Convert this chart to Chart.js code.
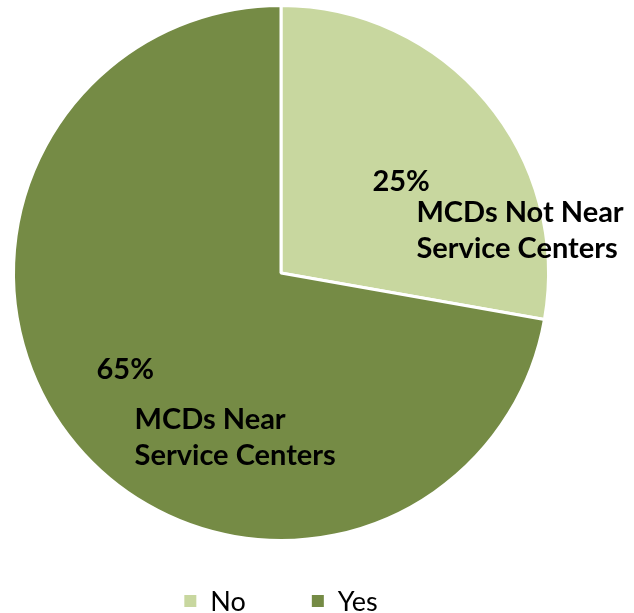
<!DOCTYPE html>
<html>
<head>
<meta charset="utf-8">
<script src="https://cdn.jsdelivr.net/npm/chart.js@4.4.1/dist/chart.umd.min.js"></script>
<style>
  body { margin: 0; background: #fff; }
  #wrap { width: 634px; height: 613px; position: relative; }
</style>
</head>
<body>
<div id="wrap"><canvas id="pieChart"></canvas></div>
<script>
// data
const categories = ['No', 'Yes'];
const values = [25, 65];
const pctLabels = ['25%', '65%'];
const sliceNames = [['MCDs Not Near', 'Service Centers'], ['MCDs Near', 'Service Centers']];
const colors = ['#c8d79f', '#758b45'];

const FONT = 'Lato, "Liberation Sans", sans-serif';

// text inside slices, placed relative to each arc's centroid
const sliceText = {
    id: 'sliceText',
    afterDatasetsDraw(chart) {
        const ctx = chart.ctx;
        const meta = chart.getDatasetMeta(0);
        // offsets from the centroid: [pct dx, pct dy, name dx, name dy]
        const offs = [[-11, -5, 33, 26], [-82, 11, -44, 61]];
        ctx.save();
        ctx.fillStyle = '#000';
        ctx.font = 'bold 29px ' + FONT;
        ctx.textAlign = 'left';
        ctx.textBaseline = 'middle';
        meta.data.forEach((arc, i) => {
            const p = arc.tooltipPosition();
            const o = offs[i];
            ctx.fillText(pctLabels[i], p.x + o[0], p.y + o[1]);
            sliceNames[i].forEach((line, j) => {
                ctx.fillText(line, p.x + o[2], p.y + o[3] + j * 36);
            });
        });
        ctx.restore();
    }
};

// legend under the pie, centred on the pie
const bottomLegend = {
    id: 'bottomLegend',
    afterDraw(chart) {
        const ctx = chart.ctx;
        const area = chart.chartArea;
        const cx = (area.left + area.right) / 2;
        const y = 601;
        const box = 12, gap = 14, itemGap = 66;
        ctx.save();
        ctx.font = '27px ' + FONT;
        ctx.textBaseline = 'middle';
        const widths = categories.map(c => box + gap + ctx.measureText(c).width);
        const total = widths.reduce((a, b) => a + b, 0) + itemGap * (categories.length - 1);
        let x = cx - total / 2;
        categories.forEach((c, i) => {
            ctx.fillStyle = colors[i];
            ctx.fillRect(x, y - box / 2, box, box);
            ctx.fillStyle = '#000';
            ctx.fillText(c, x + box + gap, y + 1);
            x += widths[i] + itemGap;
        });
        ctx.restore();
    }
};

new Chart(document.getElementById('pieChart'), {
    type: 'pie',
    data: {
        labels: categories,
        datasets: [{
            data: values,
            backgroundColor: colors,
            borderColor: '#fff',
            borderWidth: 3
        }]
    },
    options: {
        responsive: true,
        maintainAspectRatio: false,
        animation: false,
        layout: { padding: { left: 12, right: 84, top: 3, bottom: 70 } },
        plugins: {
            legend: { display: false },
            tooltip: { enabled: false }
        }
    },
    plugins: [sliceText, bottomLegend]
});
</script>
</body>
</html>
